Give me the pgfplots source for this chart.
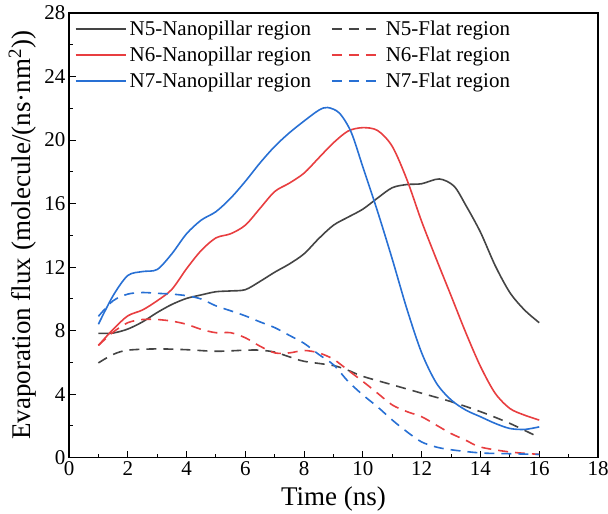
\documentclass[border=0pt]{standalone}
\usepackage{pgfplots}
\pgfplotsset{compat=1.18}
\usepackage{fontspec}
\setmainfont{Liberation Serif}
\definecolor{cblk}{RGB}{68,68,68}
\definecolor{cred}{RGB}{232,62,64}
\definecolor{cblu}{RGB}{40,112,212}
\begin{document}
\begin{tikzpicture}
\begin{axis}[
  name=ax,
  scale only axis, width=529pt, height=444.7pt,
  xmin=0, xmax=18, ymin=0, ymax=28,
  xtick={0,2,...,18}, ytick={0,4,...,28},
  minor x tick num=1, minor y tick num=1,
  xtick pos=bottom, ytick pos=left, tick align=inside,
  major tick length=7pt, minor tick length=4pt,
  every tick/.style={black, line width=1pt},
  axis line style={line width=1.3pt},
  /pgf/number format/assume math mode=true,
  tick label style={font=\fontsize{21}{23}\selectfont},
  label style={font=\fontsize{27}{30}\selectfont, inner sep=0pt},
  xlabel={Time (ns)},
  ylabel={Evaporation flux (molecule/(ns·nm\textsuperscript{2}))},
  xlabel style={at={(axis description cs:0.5,-0.066)}, anchor=north},
  ylabel style={at={(axis description cs:-0.062,0.5)}, anchor=south},
  legend columns=2,
  legend cell align=left,
  legend style={draw=none, fill=none, at={(0.005,0.998)}, anchor=north west,
    font=\fontsize{21}{23}\selectfont,
    nodes={inner xsep=3pt, inner ysep=5pt},
    /tikz/every even column/.append style={column sep=17pt}},
  legend image code/.code={\draw[line width=1.8pt] (0pt,0pt) -- (50pt,0pt);},
  every axis plot/.append style={line width=1.6pt, smooth},
]
\addplot[cblk] coordinates {(1,7.83)(1.5,7.85)(2,8.1)(2.5,8.55)(3,9.14)(3.5,9.65)(4,10.03)(4.5,10.25)(5,10.45)(5.5,10.5)(6,10.58)(6.5,11.1)(7,11.68)(7.5,12.2)(8,12.84)(8.5,13.8)(9,14.64)(9.5,15.15)(10,15.65)(10.5,16.35)(11,17.0)(11.5,17.2)(12,17.25)(12.6,17.55)(13.1,17.1)(13.5,15.9)(14,14.2)(14.5,12.1)(15,10.4)(15.5,9.3)(16,8.5)};
\addlegendentry{N5-Nanopillar region}
\addplot[cblk, dash pattern=on 10pt off 7pt] coordinates {(1,5.97)(1.5,6.5)(2,6.77)(3,6.85)(4,6.8)(5,6.7)(6,6.77)(6.5,6.77)(7,6.65)(7.5,6.35)(8,6.07)(9,5.8)(9.5,5.5)(10,5.12)(11,4.59)(12,4.06)(13,3.53)(14,2.9)(15,2.16)(16,1.27)};
\addlegendentry{N5-Flat region}
\addplot[cred] coordinates {(1,7.07)(1.5,8.08)(2,8.93)(2.5,9.3)(3,9.88)(3.5,10.6)(4,11.9)(4.5,13.05)(5,13.84)(5.5,14.1)(6,14.64)(6.5,15.7)(7,16.76)(7.5,17.29)(8,17.92)(8.5,18.88)(9,19.83)(9.5,20.57)(10,20.78)(10.5,20.6)(11,19.6)(11.5,17.5)(12,14.87)(12.5,12.5)(13,10.2)(13.5,7.88)(14,5.75)(14.5,4.06)(15,3.1)(15.5,2.68)(16,2.37)};
\addlegendentry{N6-Nanopillar region}
\addplot[cred, dash pattern=on 10pt off 7pt] coordinates {(1,7.07)(1.5,7.9)(2,8.5)(2.5,8.7)(3,8.7)(3.5,8.6)(4,8.4)(4.5,8.08)(5,7.87)(5.5,7.87)(6,7.55)(6.5,7.02)(7,6.6)(7.5,6.6)(8,6.75)(8.5,6.6)(9,6.2)(9.5,5.5)(10,4.8)(10.5,4.06)(11,3.32)(11.5,2.9)(12,2.58)(12.5,2.05)(13,1.52)(13.5,1.1)(14,0.67)(15,0.36)(16,0.21)};
\addlegendentry{N6-Flat region}
\addplot[cblu] coordinates {(1,8.4)(1.5,10.2)(2,11.47)(2.5,11.72)(3,11.85)(3.5,12.84)(4,14.1)(4.5,14.96)(5,15.49)(5.5,16.34)(6,17.4)(6.5,18.56)(7,19.6)(7.5,20.46)(8,21.2)(8.5,21.88)(8.8,22.05)(9.2,21.7)(9.6,20.5)(10,18.3)(10.5,15.5)(11,12.5)(11.5,9.35)(12,6.6)(12.5,4.7)(13,3.64)(13.5,3.0)(14,2.58)(14.5,2.16)(15,1.84)(15.5,1.78)(16,1.94)};
\addlegendentry{N7-Nanopillar region}
\addplot[cblu, dash pattern=on 10pt off 7pt] coordinates {(1,8.9)(1.5,9.88)(2,10.3)(2.5,10.4)(3,10.35)(3.5,10.3)(4,10.2)(4.5,9.99)(5,9.56)(5.5,9.25)(6,8.93)(6.5,8.55)(7,8.19)(7.5,7.7)(8,7.2)(8.5,6.5)(9,5.85)(9.5,4.8)(10,3.95)(10.5,3.2)(11,2.37)(11.5,1.63)(12,0.99)(12.5,0.67)(13,0.5)(14,0.3)(15,0.25)(16,0.21)};
\addlegendentry{N7-Flat region}
\end{axis}
\pgfresetboundingbox
\path[use as bounding box] ([xshift=-69pt,yshift=-56.3pt]ax.south west) rectangle ([xshift=10pt,yshift=13pt]ax.north east);
\end{tikzpicture}
\end{document}
